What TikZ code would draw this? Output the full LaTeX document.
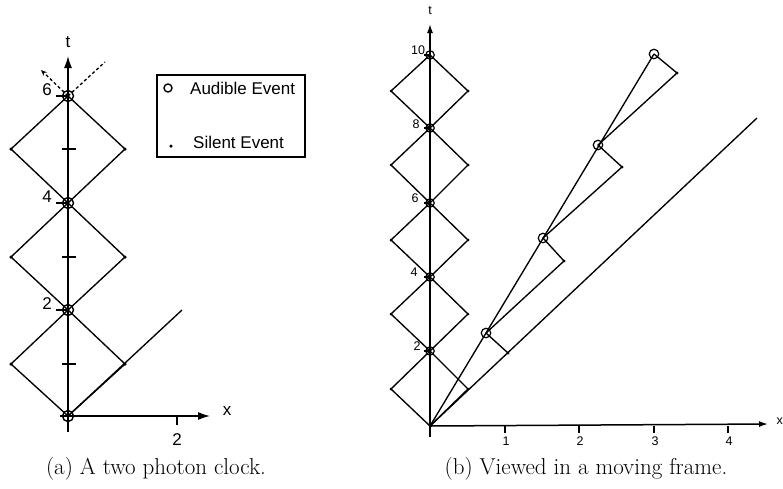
\documentclass[tikz,border=0pt]{standalone}
\usepackage{fontspec}
\newfontfamily\lab{Liberation Sans}
\usetikzlibrary{arrows.meta}
\tikzset{
  ln/.style={line width=1.35pt, black},
  ax/.style={line width=1.5pt, black},
  axarrow/.style={ax, -{Latex[length=12pt,width=8pt]}},
  axarrowsm/.style={ax, -{Latex[length=9pt,width=6pt]}},
  evbig/.style={circle, draw, line width=1.4pt, minimum size=11pt, inner sep=0pt},
  evsm/.style={circle, draw, line width=1.2pt, minimum size=8.5pt, inner sep=0pt},
  silent/.style={circle, fill, minimum size=3.5pt, inner sep=0pt},
  silentsm/.style={circle, fill, minimum size=3pt, inner sep=0pt},
  biglab/.style={font=\lab\fontsize{17}{19}\selectfont, inner sep=0pt},
  smlab/.style={font=\lab\fontsize{12.5}{14}\selectfont, inner sep=0pt},
  caption/.style={font=\fontsize{23}{27}\selectfont, inner sep=0pt},
}
\begin{document}
\begin{tikzpicture}[x=1pt,y=-1pt]
\useasboundingbox (0,0) rectangle (783,488);
% ================= Left panel =================
\coordinate (tb1) at (68,432);
\coordinate (tt1) at (68,56);
\coordinate (xl1) at (60,416);
\coordinate (xr1) at (210,416);
\coordinate (E0) at (68,416);
\coordinate (E2) at (68,310);
\coordinate (E4) at (68,203);
\coordinate (E6) at (68,96);
\coordinate (L1) at (11,364);
\coordinate (R1) at (125,364);
\coordinate (L3) at (11,257);
\coordinate (R3) at (125,257);
\coordinate (L5) at (11,149);
\coordinate (R5) at (125,149);
\coordinate (ray1) at (182,310);
\coordinate (dr) at (105,62);
\coordinate (dl) at (41,70);
% axes
\draw[axarrow] (tb1) -- (tt1);
\node[biglab] (tlab1) at (68,42) {t};
\draw[axarrow] (xl1) -- (xr1);
\node[biglab] (xlab1) at (227,411) {x};
\coordinate (xt2a) at (177,417);
\coordinate (xt2b) at (177,425);
\draw[ln] (xt2a) -- (xt2b);
\node[biglab] (x2lab) at (177,440) {2};
% ticks t=1,3,5
\foreach \y/\n in {364/a,257/b,149/c}{
  \coordinate (tk\n l) at (62,\y);
  \coordinate (tk\n r) at (76,\y);
  \draw[ln] (tk\n l) -- (tk\n r);
}
% labelled ticks t=2,4,6
\foreach \y/\t in {310/2,203/4,96/6}{
  \coordinate (lt\t) at (56,\y);
  \coordinate (lte\t) at (68,\y);
  \draw[ln] (lt\t) -- (lte\t);
  \node[biglab] (ltl\t) at (47,\y-6) {\t};
}
% diamonds
\draw[ln] (E0) -- (L1) -- (E2) -- (R1) -- cycle;
\draw[ln] (E2) -- (L3) -- (E4) -- (R3) -- cycle;
\draw[ln] (E4) -- (L5) -- (E6) -- (R5) -- cycle;
% light ray
\draw[ln] (E0) -- (ray1);
% dashed continuations
\draw[ln, dash pattern=on 3pt off 2.5pt] (E6) -- (dr);
\draw[ln, dash pattern=on 3pt off 2.5pt, -{Stealth[length=6pt,width=5pt]}] (E6) -- (dl);
% events
\foreach \p in {E0,E2,E4,E6}{ \node[evbig] (c\p) at (\p) {}; }
\foreach \p in {L1,R1,L3,R3,L5,R5}{ \node[silent] (d\p) at (\p) {}; }
% legend
\coordinate (lg1) at (157,75);
\coordinate (lg2) at (305,157);
\draw[line width=1.2pt] (lg1) rectangle (lg2);
\node[circle, draw, line width=1.4pt, minimum size=8pt, inner sep=0pt] (legc) at (168,88) {};
\node[biglab, anchor=west] (legA) at (190,88) {Audible Event};
\node[circle, fill, minimum size=3.5pt, inner sep=0pt] (legd) at (171,146) {};
\node[biglab, anchor=west] (legS) at (193,142) {Silent Event};
% ================= Right panel =================
\coordinate (tb2) at (430,437);
\coordinate (tt2) at (430,24);
\coordinate (O2) at (430,426);
\coordinate (xr2) at (768,424);
\draw[axarrowsm] (tb2) -- (tt2);
\node[smlab] (tlab2) at (430,11) {t};
\draw[axarrowsm] (O2) -- (xr2);
\node[smlab, anchor=east] (xlab2) at (783,421) {x};
\foreach \x/\n in {505/1,579/2,654/3,728/4}{
  \coordinate (xa\n) at (\x,426);
  \coordinate (xb\n) at (\x,433);
  \draw[ln] (xa\n) -- (xb\n);
  \node[smlab] (xl\n) at (\x+1,441) {\n};
}
% events on axis
\coordinate (F2) at (430,351);
\coordinate (F4) at (430,277);
\coordinate (F6) at (430,203);
\coordinate (F8) at (430,128);
\coordinate (F10) at (430,55);
\foreach \y/\k in {389/1,314/3,240/5,165/7,91/9}{
  \coordinate (PL\k) at (391,\y);
  \coordinate (PR\k) at (468,\y);
}
\draw[ln] (O2) -- (PL1) -- (F2) -- (PR1) -- cycle;
\draw[ln] (F2) -- (PL3) -- (F4) -- (PR3) -- cycle;
\draw[ln] (F4) -- (PL5) -- (F6) -- (PR5) -- cycle;
\draw[ln] (F6) -- (PL7) -- (F8) -- (PR7) -- cycle;
\draw[ln] (F8) -- (PL9) -- (F10) -- (PR9) -- cycle;
\foreach \t in {2,4,6,8,10}{
  \coordinate (rt\t) at (424,0|-F\t);
  \draw[ln] (rt\t) -- (F\t);
}
\node[smlab] (rl2) at (417,346) {2};
\node[smlab] (rl4) at (414,272) {4};
\node[smlab] (rl6) at (415,198) {6};
\node[smlab] (rl8) at (416,124) {8};
\node[smlab] (rl10) at (418,50) {10};
% moving clock
\coordinate (Lend) at (757,118);
\coordinate (M1) at (486,333);
\coordinate (M2) at (543,238);
\coordinate (M3) at (598,145);
\coordinate (M4) at (654,54);
\coordinate (S1) at (508,353);
\coordinate (S2) at (564,261);
\coordinate (S3) at (622,167);
\coordinate (S4) at (677,73);
\draw[ln] (O2) -- (Lend);
\draw[ln] (O2) -- (M4);
\draw[ln] (M1) -- (S2) -- (M2) -- (S3) -- (M3) -- (S4) -- (M4);
\draw[ln] (S1) -- (M1);
\foreach \p in {F2,F4,F6,F8,F10}{ \node[evsm] (c\p) at (\p) {}; }
\foreach \p in {M1,M2,M3,M4}{ \node[evsm, minimum size=9.5pt] (c\p) at (\p) {}; }
\foreach \p in {PL1,PR1,PL3,PR3,PL5,PR5,PL7,PR7,PL9,PR9,S1,S2,S3,S4}{ \node[silentsm] (d\p) at (\p) {}; }
% captions
\node[caption] (capa) at (156,469) {(a) A two photon clock.};
\node[caption] (capb) at (586,469) {(b) Viewed in a moving frame.};
\end{tikzpicture}
\end{document}
